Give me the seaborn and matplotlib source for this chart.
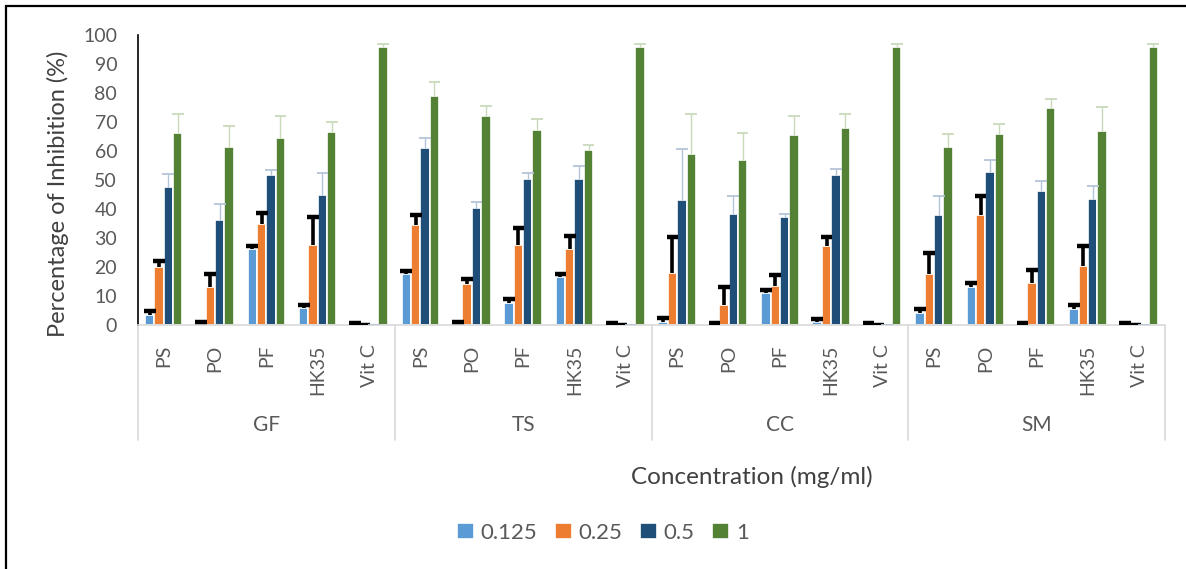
import pandas as pd
import seaborn as sns
from matplotlib import pyplot as plt
from matplotlib import transforms
from matplotlib.patches import Rectangle
import numpy as np

groups = ["GF", "TS", "CC", "SM"]
samples = ["PS", "PO", "PF", "HK35", "Vit C"]
concs = ["0.125", "0.25", "0.5", "1"]

# mean inhibition (%) per group, sample order PS, PO, PF, HK35, Vit C
val_0125 = [3.4, 0.3, 26.2, 5.9, 0.0,
            17.6, 0.3, 7.6, 16.6, 0.0,
            1.0, 0.2, 11.0, 1.0, 0.0,
            4.1, 13.2, 0.3, 5.6, 0.0]
val_025 = [19.9, 13.2, 34.8, 27.6, 0.0,
           34.4, 14.3, 27.6, 26.1, 0.0,
           17.8, 7.0, 13.6, 27.2, 0.0,
           17.6, 37.8, 14.4, 20.5, 0.0]
val_05 = [47.6, 36.3, 51.7, 44.8, 0.0,
          60.9, 40.3, 50.3, 50.2, 0.0,
          43.1, 38.4, 37.2, 51.6, 0.0,
          37.9, 52.8, 46.1, 43.3, 0.0]
val_1 = [66.3, 61.3, 64.5, 66.4, 95.9,
         78.9, 72.0, 67.2, 60.2, 95.9,
         59.1, 56.9, 65.5, 67.8, 95.9,
         61.3, 65.7, 74.7, 66.9, 95.9]

# upper error (SD)
err_0125 = [1.4, 0.6, 1.0, 1.0, 0.6,
            1.1, 0.7, 1.2, 1.0, 0.6,
            1.3, 0.6, 1.2, 1.2, 0.6,
            1.4, 1.2, 0.5, 1.3, 0.6]
err_025 = [2.3, 4.4, 3.9, 9.6, 0.0,
           3.4, 1.6, 5.8, 4.6, 0.0,
           12.5, 6.1, 3.6, 3.1, 0.0,
           7.3, 6.8, 4.6, 6.9, 0.0]
err_05 = [4.4, 5.3, 1.6, 7.5, 0.0,
          3.5, 2.0, 2.0, 4.6, 0.0,
          17.5, 6.0, 1.0, 2.1, 0.0,
          6.5, 4.0, 3.4, 4.5, 0.0]
err_1 = [6.3, 7.2, 7.5, 3.5, 0.9,
         4.8, 3.4, 3.7, 1.7, 0.9,
         13.5, 9.2, 6.5, 4.8, 0.9,
         4.4, 3.5, 3.1, 8.2, 0.9]

colors = ["#5b9bd5", "#ed7d31", "#1f4e79", "#548235"]
err_colors = ["#000000", "#000000", "#b4c4d8", "#c9dabb"]
err_widths = [2.6, 2.6, 1.0, 1.0]

values = [val_0125, val_025, val_05, val_1]
errors = [err_0125, err_025, err_05, err_1]

rows = []
for ci, c in enumerate(concs):
    for gi, g in enumerate(groups):
        for si, s in enumerate(samples):
            k = gi * len(samples) + si
            rows.append({"key": f"{g}|{s}", "conc": c,
                         "value": values[ci][k], "err": errors[ci][k]})
df = pd.DataFrame(rows)
order = [f"{g}|{s}" for g in groups for s in samples]

sns.set_style("white")
plt.rcParams["font.family"] = ["Lato", "DejaVu Sans"]
grey = "#595959"

fig = plt.figure(figsize=(11.86, 5.69), dpi=100)
ax = fig.add_axes([138 / 1186, 1 - 325 / 569, 1027 / 1186, 290 / 569])

sns.barplot(data=df, x="key", y="value", hue="conc", order=order,
            hue_order=concs, palette=colors, width=0.73, errorbar=None,
            edgecolor="white", linewidth=1.2, saturation=1, ax=ax, legend=True)

# upper-only error bars with a cap
cap_half = 0.115
bar_conts = list(ax.containers)
for ci, cont in enumerate(bar_conts):
    xs = np.array([p.get_x() + p.get_width() / 2 for p in cont.patches])
    sub = df[df["conc"] == concs[ci]].set_index("key").loc[order]
    ys = sub["value"].values
    es = sub["err"].values
    tops = ys + es
    ax.vlines(xs, ys, tops, color=err_colors[ci], lw=err_widths[ci], zorder=3)
    ax.hlines(tops, xs - cap_half, xs + cap_half, color=err_colors[ci],
              lw=err_widths[ci] + (0.6 if ci < 2 else 0.3), zorder=3)

ax.set_ylim(0, 100)
ax.set_xlim(-0.5, len(order) - 0.5)
ax.set_yticks(np.arange(0, 101, 10))
ax.tick_params(axis="y", labelsize=14, labelcolor=grey, length=0, pad=15)
ax.set_xticks(range(len(order)))
ax.set_xticklabels(samples * len(groups), rotation=90, fontsize=14, color=grey)
ax.tick_params(axis="x", length=0, pad=14)
ax.set_xlabel("")
ax.set_ylabel("")

for sp in ["top", "right"]:
    ax.spines[sp].set_visible(False)
ax.spines["left"].set_color("black")
ax.spines["left"].set_linewidth(1.2)
ax.spines["bottom"].set_color("#d9d9d9")
ax.spines["bottom"].set_linewidth(1.2)

trans = transforms.blended_transform_factory(ax.transData, ax.transAxes)
for gi in range(len(groups) + 1):
    xb = gi * len(samples) - 0.5
    ax.plot([xb, xb], [0, -0.397], transform=trans, color="#d9d9d9",
            lw=1.2, clip_on=False)
for gi, g in enumerate(groups):
    xc = gi * len(samples) + (len(samples) - 1) / 2
    ax.text(xc, -0.345, g, transform=trans, ha="center", va="center",
            fontsize=15, color=grey)

fig.text(58 / 1186, 1 - 194 / 569, "Percentage of Inhibition (%)", rotation=90,
         ha="center", va="center", fontsize=17, color="#404040")
fig.text(752 / 1186, 1 - 477 / 569, "Concentration (mg/ml)",
         ha="center", va="center", fontsize=17.5, color="#404040")

handles, labels = ax.get_legend_handles_labels()
ax.get_legend().remove()
fig.legend(handles, labels, loc="center", bbox_to_anchor=(603 / 1186, 1 - 533 / 569),
           ncol=4, frameon=False, fontsize=16, labelcolor=grey,
           handlelength=0.75, handleheight=0.75, handletextpad=0.3,
           columnspacing=0.8)

fig.patches.append(Rectangle((6 / 1186, -0.1), 1.2, (1 - 6 / 569) + 0.1,
                             transform=fig.transFigure, fill=False,
                             edgecolor="black", lw=1.6))

fig.savefig("out.png", dpi=100)
